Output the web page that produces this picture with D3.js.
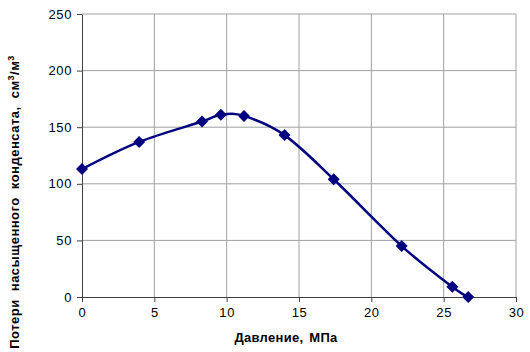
<!DOCTYPE html>
<html>
<head>
<meta charset="utf-8">
<script src="https://cdn.jsdelivr.net/npm/d3@7"></script>
<style>
  body { margin: 0; background: #fff; }
  svg { display: block; font-family: "Liberation Sans", Arial, sans-serif; }
</style>
</head>
<body>
<svg id="chart" width="530" height="352"></svg>
<script>
// pressure, MPa
const pressure = [0, 3.95, 8.3, 9.6, 11.2, 14.0, 17.4, 22.1, 25.6, 26.7];
// losses of saturated condensate, cm3/m3
const losses = [113, 137, 155, 161, 160, 143, 104, 45, 9, 0];
const xTicks = [0, 5, 10, 15, 20, 25, 30];
const yTicks = [0, 50, 100, 150, 200, 250];

const svg = d3.select('#chart');
const m = { left: 82, right: 14, top: 14, bottom: 55 };
const W = 530, H = 352;

const x = d3.scaleLinear().domain([0, 30]).range([m.left, W - m.right]);
const y = d3.scaleLinear().domain([0, 250]).range([H - m.bottom, m.top]);

// grid
svg.append('g').selectAll('line').data(xTicks.slice(1))
  .join('line')
  .attr('x1', d => x(d)).attr('x2', d => x(d))
  .attr('y1', y(0)).attr('y2', y(250))
  .attr('stroke', '#a0a0a0').attr('stroke-width', 1);
svg.append('g').selectAll('line').data(yTicks.slice(1))
  .join('line')
  .attr('x1', x(0)).attr('x2', x(30))
  .attr('y1', d => y(d)).attr('y2', d => y(d))
  .attr('stroke', '#a0a0a0').attr('stroke-width', 1);

// axes
const xAxis = svg.append('g')
  .attr('transform', `translate(0,${y(0)})`)
  .call(d3.axisBottom(x).tickValues(xTicks).tickSize(5).tickSizeOuter(0));
const yAxis = svg.append('g')
  .attr('transform', `translate(${x(0)},0)`)
  .call(d3.axisLeft(y).tickValues(yTicks).tickSize(5).tickSizeOuter(0));
[xAxis, yAxis].forEach(a => {
  a.select('.domain').attr('stroke', '#404040');
  a.selectAll('.tick line').attr('stroke', '#404040');
  a.selectAll('text').attr('font-size', 13).attr('fill', '#000')
    .attr('letter-spacing', 0.6)
    .attr('font-family', '"Liberation Sans", Arial, sans-serif');
});
xAxis.selectAll('text').attr('dy', '0.95em');
yAxis.selectAll('text').attr('dx', '-2');

// curve
const pts = pressure.map((p, i) => [p, losses[i]]);
const line = d3.line()
  .x(d => x(d[0])).y(d => y(d[1]))
  .curve(d3.curveCatmullRom.alpha(0));
svg.append('path').datum(pts)
  .attr('d', line)
  .attr('fill', 'none')
  .attr('stroke', '#000080')
  .attr('stroke-width', 2.5);

// markers
svg.append('g').selectAll('path').data(pts)
  .join('path')
  .attr('transform', d => `translate(${x(d[0])},${y(d[1])})`)
  .attr('d', 'M0,-6L6,0L0,6L-6,0Z')
  .attr('fill', '#000080');

// axis titles
svg.append('text')
  .attr('x', 286).attr('y', 342)
  .attr('text-anchor', 'middle')
  .attr('font-size', 13).attr('font-weight', 'bold')
  .attr('letter-spacing', 0.3).attr('word-spacing', 2)
  .text('Давление, МПа');

const yt = svg.append('text')
  .attr('transform', 'translate(19,202) rotate(-90)')
  .attr('text-anchor', 'middle')
  .attr('font-size', 13).attr('font-weight', 'bold')
  .attr('letter-spacing', 0.5).attr('word-spacing', 4);
yt.append('tspan').text('Потери насыщенного конденсата, см');
yt.append('tspan').attr('font-size', 9).attr('dy', -5).text('3');
yt.append('tspan').attr('dy', 5).text('/м');
yt.append('tspan').attr('font-size', 9).attr('dy', -5).text('3');
</script>
</body>
</html>
